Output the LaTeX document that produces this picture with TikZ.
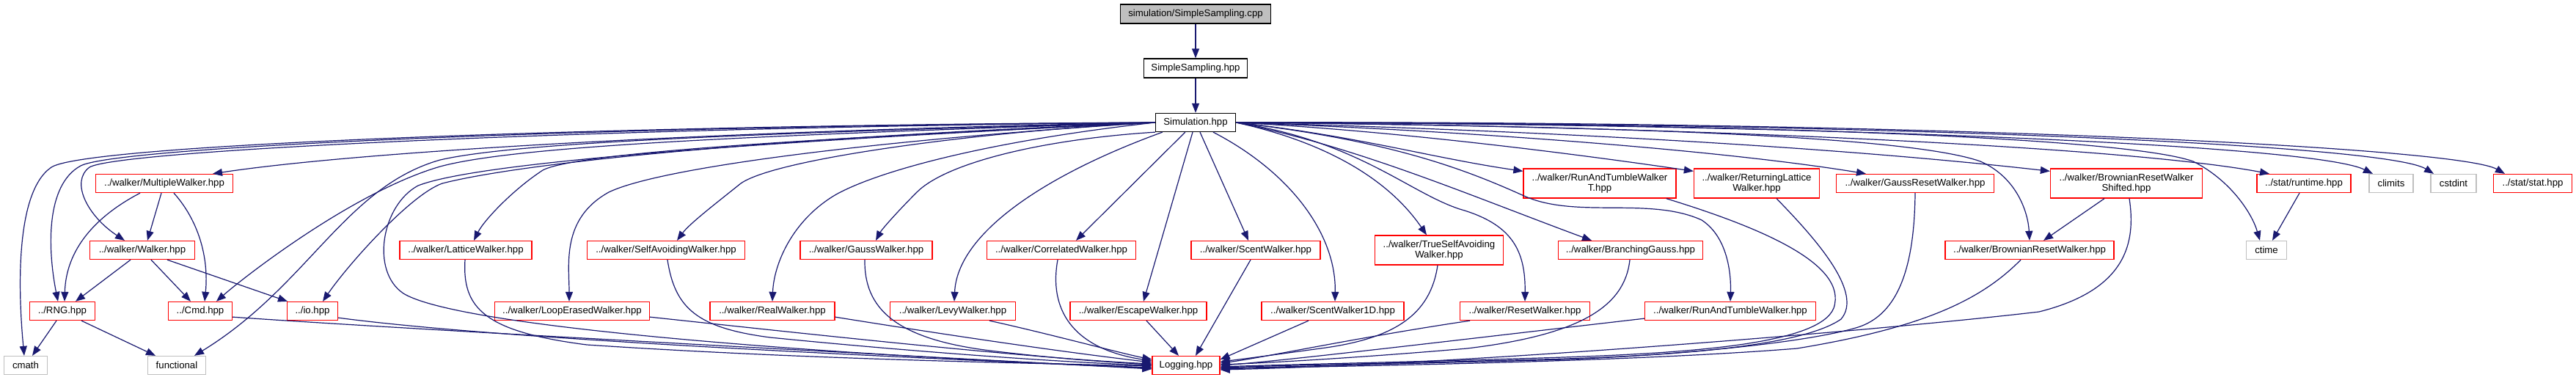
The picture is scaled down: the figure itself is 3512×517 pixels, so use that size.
\documentclass[tikz,border=0pt]{standalone}
\usepackage{fontspec}
\setmainfont{Liberation Sans}
\usetikzlibrary{arrows.meta}
\definecolor{edgec}{HTML}{191970}
\definecolor{grayb}{HTML}{BFBFBF}
\definecolor{redb}{HTML}{FF0000}
\newcommand\fsz{\fontsize{13.2}{14.5}\selectfont}
\begin{document}
\begin{tikzpicture}[x=1pt,y=-1pt,
  box/.style={draw, line width=1.3pt, minimum height=25pt, inner sep=0pt, font=\fsz, align=center},
  redbox/.style={box, draw=redb},
  graybox/.style={box, draw=grayb},
  blackbox/.style={box, draw=black},
  e/.style={draw=edgec, line width=1.2pt, -{Triangle[length=13pt,width=10pt]}}]
\useasboundingbox[fill=white] (0,0) rectangle (3512,517);
% nodes
\node[blackbox, fill=grayb, minimum width=205pt, minimum height=26pt] (cpp) at (1630,19) {simulation/SimpleSampling.cpp};
\node[blackbox, minimum width=141pt, minimum height=26pt] (ssh) at (1630,93) {SimpleSampling.hpp};
\node[blackbox, minimum width=109pt] (sim) at (1630,167) {Simulation.hpp};
% row 2
\node[redbox, minimum width=187pt] (mw) at (224,250) {../walker/MultipleWalker.hpp};
\node[redbox, minimum width=208pt, minimum height=40pt] (rtt) at (2181,250) {../walker/RunAndTumbleWalker\\T.hpp};
\node[redbox, minimum width=171pt, minimum height=40pt] (rlw) at (2395,250) {../walker/ReturningLattice\\Walker.hpp};
\node[redbox, minimum width=215pt] (grw) at (2611,250) {../walker/GaussResetWalker.hpp};
\node[redbox, minimum width=207pt, minimum height=40pt] (brs) at (2899,250) {../walker/BrownianResetWalker\\Shifted.hpp};
\node[redbox, minimum width=128pt] (rt) at (3141,250) {../stat/runtime.hpp};
\node[graybox, minimum width=60pt] (climits) at (3260,250) {climits};
\node[graybox, minimum width=62pt] (cstdint) at (3345,250) {cstdint};
\node[redbox, minimum width=107pt] (stat) at (3453,250) {../stat/stat.hpp};
% row 3
\node[redbox, minimum width=143pt] (walker) at (194,341) {../walker/Walker.hpp};
\node[redbox, minimum width=180pt] (lat) at (635,341) {../walker/LatticeWalker.hpp};
\node[redbox, minimum width=215pt] (saw) at (908,341) {../walker/SelfAvoidingWalker.hpp};
\node[redbox, minimum width=180pt] (gw) at (1181,341) {../walker/GaussWalker.hpp};
\node[redbox, minimum width=203pt] (cw) at (1447,341) {../walker/CorrelatedWalker.hpp};
\node[redbox, minimum width=176pt] (sw) at (1712,341) {../walker/ScentWalker.hpp};
\node[redbox, minimum width=175pt, minimum height=40pt] (tsaw) at (1962,341) {../walker/TrueSelfAvoiding\\Walker.hpp};
\node[redbox, minimum width=197pt] (bg) at (2223,341) {../walker/BranchingGauss.hpp};
\node[redbox, minimum width=230pt] (brw) at (2767,341) {../walker/BrownianResetWalker.hpp};
\node[graybox, minimum width=55pt] (ctime) at (3090,341) {ctime};
% row 4
\node[redbox, minimum width=89pt] (rng) at (85,424) {../RNG.hpp};
\node[redbox, minimum width=87pt] (cmd) at (273,424) {../Cmd.hpp};
\node[redbox, minimum width=69pt] (io) at (426,424) {../io.hpp};
\node[redbox, minimum width=211pt] (lew) at (780,424) {../walker/LoopErasedWalker.hpp};
\node[redbox, minimum width=170pt] (rw) at (1053,424) {../walker/RealWalker.hpp};
\node[redbox, minimum width=171pt] (lw) at (1299,424) {../walker/LevyWalker.hpp};
\node[redbox, minimum width=186pt] (ew) at (1552,424) {../walker/EscapeWalker.hpp};
\node[redbox, minimum width=194pt] (sw1d) at (1817,424) {../walker/ScentWalker1D.hpp};
\node[redbox, minimum width=177pt] (rsw) at (2079,424) {../walker/ResetWalker.hpp};
\node[redbox, minimum width=233pt] (rtw) at (2359,424) {../walker/RunAndTumbleWalker.hpp};
% row 5
\node[graybox, minimum width=59pt] (cmath) at (35,498) {cmath};
\node[graybox, minimum width=79pt] (func) at (241,498) {functional};
\node[redbox, minimum width=92pt] (log) at (1617,498) {Logging.hpp};
% edges top
\draw[e] (cpp) -- (ssh);
\draw[e] (ssh) -- (sim);
% simulation -> left
\draw[e] (sim.west) .. controls (900,170) and (120,195) .. (70,228) .. controls (20,262) and (25,400) .. ([xshift=-2pt]cmath.north);
\draw[e] (sim.west) .. controls (800,172) and (160,200) .. (110,226) .. controls (62,252) and (65,340) .. ([xshift=-6pt]rng.north);
\draw[e] (sim.west) .. controls (800,174) and (160,205) .. (122,228) .. controls (95,248) and (120,295) .. ([xshift=-24pt]walker.north);
\draw[e] (sim.west) .. controls (1000,178) and (500,205) .. ([xshift=66pt]mw.north);
\draw[e] (sim.west) .. controls (1000,185) and (700,200) .. (600,227) .. controls (480,262) and (330,380) .. ([xshift=22pt]cmd.north);
\draw[e] (sim.west) .. controls (1000,182) and (700,195) .. (600,218) .. controls (470,255) and (420,390) .. ([xshift=24pt]func.north);
\draw[e] (sim.west) .. controls (1000,190) and (700,225) .. (603,250) .. controls (560,265) and (475,360) .. ([xshift=14pt]io.north);
\draw[e] (sim.west) .. controls (1000,195) and (650,222) .. (570,253) .. controls (520,280) and (505,370) .. (550,400) .. controls (640,455) and (1300,492) .. ([yshift=-3pt]log.west);
\draw[e] (sim.west) .. controls (1200,185) and (790,205) .. (740,232) .. controls (700,258) and (660,300) .. ([xshift=11pt]lat.north);
\draw[e] (sim.west) .. controls (1200,190) and (900,228) .. (830,262) .. controls (765,298) and (776,360) .. ([xshift=-4pt]lew.north);
\draw[e] (sim.west) .. controls (1350,178) and (1060,215) .. (1010,250) .. controls (975,278) and (940,305) .. ([xshift=15pt]saw.north);
\draw[e] (sim.west) .. controls (1350,192) and (1200,232) .. (1140,265) .. controls (1080,300) and (1055,360) .. (rw.north);
\draw[e] (sim.south west) .. controls (1420,190) and (1290,222) .. (1250,262) .. controls (1222,290) and (1202,313) .. ([xshift=13pt]gw.north);
\draw[e] ([xshift=10pt]sim.south west) .. controls (1420,240) and (1305,320) .. ([xshift=2pt]lw.north);
\draw[e] ([xshift=41pt]sim.south west) -- ([xshift=20pt]cw.north);
\draw[e] ([xshift=-4pt]sim.south) -- ([xshift=7pt]ew.north);
\draw[e] ([xshift=6pt]sim.south) -- ([xshift=-10pt]sw.north);
\draw[e] ([xshift=24pt]sim.south) .. controls (1760,235) and (1822,320) .. ([xshift=3pt]sw1d.north);
% simulation -> right
\draw[e] (sim.east) .. controls (1800,192) and (1890,240) .. ([xshift=-17pt]tsaw.north);
\draw[e] (sim.east) .. controls (1850,192) and (1920,262) .. (1990,285) .. controls (2060,305) and (2080,340) .. (rsw.north);
\draw[e] (sim.east) .. controls (1850,200) and (2000,265) .. ([xshift=-53pt]bg.north);
\draw[e] (sim.east) .. controls (1850,185) and (1950,215) .. ([yshift=-4pt]rtt.north west);
\draw[e] (sim.east) .. controls (1900,192) and (2000,232) .. (2080,268) .. controls (2150,298) and (2250,268) .. (2320,300) .. controls (2358,325) and (2360,380) .. (rtw.north);
\draw[e] (sim.east) .. controls (1900,178) and (2150,210) .. ([yshift=-4pt]rlw.north west);
\draw[e] (sim.east) .. controls (2000,178) and (2350,205) .. ([xshift=-67pt]grw.north);
\draw[e] (sim.east) .. controls (2200,172) and (2600,185) .. (2700,220) .. controls (2750,242) and (2765,290) .. (brw.north);
\draw[e] (sim.east) .. controls (2100,178) and (2500,200) .. ([yshift=-4pt]brs.north west);
\draw[e] (sim.east) .. controls (2400,168) and (2900,188) .. (2990,220) .. controls (3040,245) and (3070,290) .. ([xshift=-9pt]ctime.north);
\draw[e] (sim.east) .. controls (2300,172) and (2900,200) .. ([xshift=-47pt]rt.north);
\draw[e] (sim.east) .. controls (2400,168) and (3150,195) .. ([xshift=-25pt]climits.north);
\draw[e] (sim.east) .. controls (2500,166) and (3250,195) .. ([xshift=-27pt]cstdint.north);
\draw[e] (sim.east) .. controls (2600,164) and (3350,200) .. ([xshift=-38pt]stat.north);
% MultipleWalker
\draw[e] ([xshift=-4pt]mw.south) -- ([xshift=7pt]walker.north);
\draw[e] ([xshift=-33pt]mw.south) .. controls (130,295) and (90,340) .. ([xshift=3pt]rng.north);
\draw[e] ([xshift=13pt]mw.south) .. controls (270,300) and (285,350) .. ([xshift=6pt]cmd.north);
% Walker
\draw[e] ([xshift=-16pt]walker.south) -- ([xshift=18pt]rng.north);
\draw[e] ([xshift=12pt]walker.south) -- ([xshift=-13pt]cmd.north);
\draw[e] ([xshift=34pt]walker.south) -- ([xshift=-34pt]io.north);
% RNG
\draw[e] ([xshift=-8pt]rng.south) -- ([xshift=9pt]cmath.north);
\draw[e] ([xshift=26pt]rng.south) -- ([xshift=-29pt]func.north);
% -> Logging
\draw[e] ([yshift=5pt]cmd.south east) .. controls (600,452) and (1300,488) .. ([yshift=-5pt]log.west);
\draw[e] ([yshift=4pt]io.south east) .. controls (700,465) and (1300,490) .. ([yshift=-4pt]log.west);
\draw[e] ([xshift=-1pt]lat.south) .. controls (630,420) and (660,452) .. (800,470) .. controls (1100,490) and (1400,495) .. ([yshift=-1pt]log.west);
\draw[e] ([yshift=5pt]lew.south east) .. controls (1100,455) and (1400,488) .. ([yshift=2pt]log.west);
\draw[e] ([xshift=2pt]saw.south) .. controls (920,420) and (950,447) .. (1050,460) .. controls (1250,480) and (1450,494) .. (log.west);
\draw[e] ([yshift=5pt]rw.south east) .. controls (1300,458) and (1450,480) .. ([yshift=4pt]log.west);
\draw[e] ([xshift=-2pt]gw.south) .. controls (1178,420) and (1220,462) .. (1350,478) .. controls (1450,490) and (1520,494) .. ([yshift=1pt]log.west);
\draw[e] ([xshift=50pt]lw.south) .. controls (1430,455) and (1530,482) .. ([yshift=8pt]log.west);
\draw[e] ([xshift=-5pt]cw.south) .. controls (1430,420) and (1460,475) .. ([yshift=6pt]log.west);
\draw[e] ([xshift=11pt]ew.south) -- ([xshift=-10pt]log.north);
\draw[e] ([xshift=-7pt]sw.south) -- ([xshift=13pt]log.north);
\draw[e] ([xshift=-33pt]sw1d.south) -- ([yshift=8pt]log.east);
\draw[e] ([xshift=-2pt]tsaw.south) .. controls (1950,430) and (1900,462) .. (1800,475) .. controls (1720,486) and (1690,490) .. ([yshift=5pt]log.east);
\draw[e] ([xshift=-75pt]rsw.south) .. controls (1850,460) and (1720,488) .. ([yshift=3pt]log.east);
\draw[e] ([xshift=-1pt]bg.south) .. controls (2215,420) and (2150,457) .. (2000,475) .. controls (1850,488) and (1720,495) .. ([yshift=1pt]log.east);
\draw[e] ([yshift=3pt]rtw.south west) .. controls (2000,462) and (1750,492) .. (log.east);
\draw[e] ([xshift=-14pt]rtt.south east) .. controls (2400,310) and (2520,360) .. (2500,420) .. controls (2480,470) and (2300,482) .. (2100,488) .. controls (1900,494) and (1750,497) .. ([yshift=-2pt]log.east);
\draw[e] ([xshift=27pt]rlw.south) .. controls (2480,330) and (2540,400) .. (2510,435) .. controls (2460,470) and (2300,485) .. (2100,490) .. controls (1900,495) and (1750,498) .. ([yshift=-3pt]log.east);
\draw[e] (grw.south) .. controls (2610,360) and (2590,430) .. (2530,447) .. controls (2450,470) and (2250,487) .. (2100,491) .. controls (1900,496) and (1750,500) .. ([yshift=-4pt]log.east);
\draw[e] ([xshift=-12pt]brw.south) .. controls (2700,410) and (2620,447) .. (2450,475) .. controls (2200,495) and (1800,499) .. ([yshift=-5pt]log.east);
\draw[e] ([xshift=4pt]brs.south) .. controls (2912,330) and (2900,395) .. (2780,425) .. controls (2550,452) and (2000,496) .. ([yshift=-6pt]log.east);
% misc
\draw[e] ([xshift=-30pt]brs.south) -- ([xshift=19pt]brw.north);
\draw[e] ([xshift=-6pt]rt.south) -- ([xshift=8pt]ctime.north);
\end{tikzpicture}
\end{document}
